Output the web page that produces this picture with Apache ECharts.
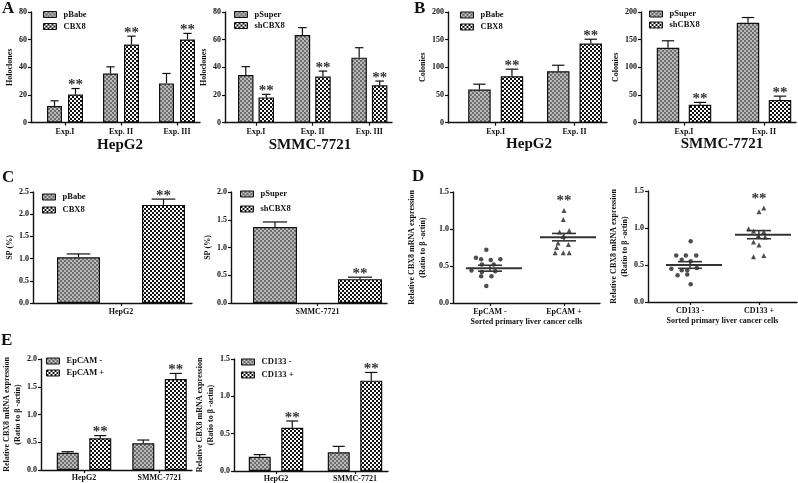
<!DOCTYPE html>
<html><head><meta charset="utf-8">
<script src="https://cdn.jsdelivr.net/npm/echarts@6/dist/echarts.min.js"></script>
<style>html,body{margin:0;padding:0;background:#fff}#c{width:798px;height:483px}</style>
</head><body><div id="c"></div>
<script>
// ================= DATA =================
const expCats3 = ['Exp.I', 'Exp. II', 'Exp. III'];
const expCats2 = ['Exp.I', 'Exp. II'];
const cellCats = ['HepG2', 'SMMC-7721'];
const cCatHep = ['HepG2'];
const cCatSmmc = ['SMMC-7721'];
const epcamCats = ['EpCAM -', 'EpCAM +'];
const cd133Cats = ['CD133 -', 'CD133 +'];

// Panel A (Holoclones)
const aHepPBabe = [12, 35.5, 28.3];
const aHepPBabeErr = [3.7, 4.8, 7.2];
const aHepCBX8 = [20.3, 56.5, 60.1];
const aHepCBX8Err = [4.3, 6, 4.4];
const aHepSig = ['**', '**', '**'];
const aSmmcPSuper = [34.5, 63.4, 47];
const aSmmcPSuperErr = [6, 5.3, 7.2];
const aSmmcShCBX8 = [18.3, 33.3, 27];
const aSmmcShCBX8Err = [2.2, 4, 3.1];
const aSmmcSig = ['**', '**', '**'];

// Panel B (Colonies)
const bHepPBabe = [60, 93];
const bHepPBabeErr = [9.6, 10.8];
const bHepCBX8 = [84, 143];
const bHepCBX8Err = [12.7, 7.8];
const bHepSig = ['**', '**'];
const bSmmcPSuper = [135.5, 180.5];
const bSmmcPSuperErr = [12.5, 9.5];
const bSmmcShCBX8 = [32.5, 41];
const bSmmcShCBX8Err = [4.2, 7];
const bSmmcSig = ['**', '**'];

// Panel C (SP %)
const cHepPBabe = [1.03];
const cHepPBabeErr = [0.075];
const cHepCBX8 = [2.21];
const cHepCBX8Err = [0.13];
const cHepSig = ['**'];
const cSmmcPSuper = [1.37];
const cSmmcPSuperErr = [0.09];
const cSmmcShCBX8 = [0.43];
const cSmmcShCBX8Err = [0.035];
const cSmmcSig = ['**'];

// Panel D (sorted primary cells, individual points)
const dEpNeg = [0.72, 0.61, 0.59, 0.58, 0.59, 0.52, 0.52, 0.44, 0.42, 0.43, 0.36, 0.36, 0.23];
const dEpNegJitter = [-0.05, -0.19, -0.12, 0.01, 0.14, -0.11, 0.05, -0.25, -0.11, 0.07, -0.12, 0.02, -0.05];
const dEpPos = [1.25, 1.13, 0.96, 0.98, 0.90, 0.81, 0.79, 0.75, 0.68, 0.68, 0.68];
const dEpPosJitter = [0.00, -0.01, -0.06, 0.07, -0.01, -0.08, 0.06, -0.10, -0.12, -0.01, 0.07];
const dEpMean = [0.47, 0.89];
const dEpSem = [0.04, 0.05];
const dCdNeg = [0.82, 0.63, 0.63, 0.63, 0.57, 0.55, 0.45, 0.43, 0.43, 0.46, 0.36, 0.37, 0.24];
const dCdNegJitter = [0.01, -0.20, -0.06, 0.09, -0.12, 0.01, -0.27, -0.12, -0.04, 0.10, -0.18, -0.04, 0.01];
const dCdPos = [1.27, 1.22, 0.99, 0.96, 0.95, 0.90, 0.88, 0.81, 0.77, 0.61, 0.63];
const dCdPosJitter = [0.07, 0.00, -0.15, -0.08, 0.07, -0.01, 0.09, -0.08, 0.00, -0.08, 0.07];
const dCdMean = [0.50, 0.91];
const dCdSem = [0.045, 0.055];
const dSig = ['', '**'];

// Panel E (cell lines)
const eEpNeg = [0.31, 0.48];
const eEpNegErr = [0.02, 0.06];
const eEpPos = [0.57, 1.64];
const eEpPosErr = [0.05, 0.10];
const eEpSig = ['**', '**'];
const eCdNeg = [0.19, 0.25];
const eCdNegErr = [0.03, 0.08];
const eCdPos = [0.58, 1.21];
const eCdPosErr = [0.09, 0.11];
const eCdSig = ['**', '**'];

// ================= STYLE / LAYOUT =================
const FONT = '"Liberation Serif", "Times New Roman", serif';
const TXT = '#111';
function pattern(kind) {
  const c = document.createElement('canvas');
  c.width = 4; c.height = 4;
  const g = c.getContext('2d');
  if (kind === 'grey') {
    g.fillStyle = '#b9b9b9'; g.fillRect(0, 0, 4, 4);
    g.fillStyle = '#6e6e6e'; g.fillRect(0, 0, 2, 2); g.fillRect(2, 2, 2, 2);
  } else {
    g.fillStyle = '#ffffff'; g.fillRect(0, 0, 4, 4);
    g.fillStyle = '#111111'; g.fillRect(0, 0, 2, 2); g.fillRect(2, 2, 2, 2);
  }
  return { image: c, repeat: 'repeat' };
}
const GREY = pattern('grey');
const CHECK = pattern('check');

const grids = [], xAxes = [], yAxes = [], series = [], legends = [], graphics = [];

function addPanel(p) {
  const i = grids.length;
  grids.push({ left: p.L, top: p.top, width: p.R - p.L, height: p.bot - p.top });
  const idx = p.cats.map((_, k) => k);
  xAxes.push({
    gridIndex: i, type: 'value',
    min: -(p.c0 - p.L) / p.step, max: (p.R - p.c0) / p.step,
    axisLine: { show: true, onZero: false, lineStyle: { color: '#111', width: 1.4 } },
    axisTick: { show: true, customValues: idx, length: 3, lineStyle: { color: '#111', width: 1.2 } },
    axisLabel: { customValues: idx, formatter: v => p.cats[Math.round(v)] || '', margin: p.xm || 5,
      color: TXT, fontFamily: FONT, fontWeight: 'bold', fontSize: 8 },
    splitLine: { show: false },
    name: p.xname || '', nameLocation: 'middle', nameGap: p.xng || 15,
    nameTextStyle: { color: TXT, fontFamily: FONT, fontWeight: 'bold', fontSize: 8 }
  });
  yAxes.push({
    gridIndex: i, type: 'value', min: 0, max: p.ymax, interval: p.yint,
    axisLine: { show: true, onZero: false, lineStyle: { color: '#111', width: 1.4 } },
    axisTick: { show: true, length: 3, lineStyle: { color: '#111', width: 1.2 } },
    axisLabel: { formatter: v => v.toFixed(p.dec), margin: 4, color: TXT, fontFamily: FONT, fontWeight: 'bold', fontSize: 8 },
    splitLine: { show: false },
    name: p.yname, nameLocation: 'middle', nameGap: p.yng, nameRotate: 90,
    nameTextStyle: { color: TXT, fontFamily: FONT, fontWeight: 'bold', fontSize: 8, lineHeight: 11, align: 'center' }
  });
  return i;
}

function addBars(p, groups, sig) {
  const i = addPanel(p);
  const w = p.barW, gap = (p.dist - w) / w;
  groups.forEach((s) => {
    series.push({
      type: 'bar', name: s.name, xAxisIndex: i, yAxisIndex: i,
      data: s.vals.map((v, j) => [j, v]),
      barWidth: w, barGap: (gap * 100).toFixed(1) + '%',
      itemStyle: { color: s.fill, borderColor: '#111', borderWidth: 1.2 },
      silent: true
    });
  });
  groups.forEach((s, k) => {
    const off = (k === 0 ? -1 : 1) * p.dist / 2;
    const cap = w * 0.55;
    series.push({
      type: 'custom', xAxisIndex: i, yAxisIndex: i, z: 5, silent: true,
      data: s.vals.map((v, j) => [j, v, s.errs[j]]),
      renderItem: (params, api) => {
        const x = api.value(0), y = api.value(1), e = api.value(2);
        const b = api.coord([x, y]), t = api.coord([x, y + e]);
        const cx = b[0] + off;
        const ch = [
          { type: 'line', shape: { x1: cx, y1: b[1], x2: cx, y2: t[1] }, style: { stroke: '#111', lineWidth: 1.2 } },
          { type: 'line', shape: { x1: cx - cap / 2, y1: t[1], x2: cx + cap / 2, y2: t[1] }, style: { stroke: '#111', lineWidth: 1.2 } }
        ];
        if (k === 1 && sig[params.dataIndex]) {
          ch.push({ type: 'text', x: cx, y: t[1] - 3, style: { text: sig[params.dataIndex], font: 'bold 15px ' + FONT, fill: '#333', align: 'center', verticalAlign: 'middle' } });
        }
        return { type: 'group', children: ch };
      }
    });
  });
  legends.push({
    left: p.lg[0], top: p.lg[1], orient: 'vertical', icon: 'rect', itemWidth: 13, itemHeight: 6,
    itemGap: p.lg[2], padding: 0, selectedMode: false,
    data: groups.map(s => s.name),
    itemStyle: { borderColor: '#111', borderWidth: 1 },
    textStyle: { color: TXT, fontFamily: FONT, fontWeight: 'bold', fontSize: 8.5, lineHeight: 9, padding: [0, 0, 0, 2] }
  });
}

function addDots(p, neg, negJ, pos, posJ, mean, sem) {
  const i = addPanel(p);
  series.push({ type: 'scatter', xAxisIndex: i, yAxisIndex: i, symbol: 'circle', symbolSize: 4.5, silent: true,
    itemStyle: { color: '#222' }, data: neg.map((v, j) => [negJ[j], v]) });
  series.push({ type: 'scatter', xAxisIndex: i, yAxisIndex: i, symbol: 'triangle', symbolSize: 5, silent: true,
    itemStyle: { color: '#222' }, data: pos.map((v, j) => [1 + posJ[j], v]) });
  const maxes = [Math.max(...neg), Math.max(...pos)];
  series.push({
    type: 'custom', xAxisIndex: i, yAxisIndex: i, z: 5, silent: true,
    data: mean.map((m, j) => [j, m, sem[j], maxes[j]]),
    renderItem: (params, api) => {
      const x = api.value(0), m = api.value(1), s = api.value(2), mx = api.value(3);
      const c = api.coord([x, m]), hi = api.coord([x, m + s]), lo = api.coord([x, m - s]), top = api.coord([x, mx]);
      const ch = [
        { type: 'line', shape: { x1: c[0] - 24, y1: c[1], x2: c[0] + 32, y2: c[1] }, style: { stroke: '#333', lineWidth: 2 } },
        { type: 'line', shape: { x1: c[0] - 12, y1: hi[1], x2: c[0] + 12, y2: hi[1] }, style: { stroke: '#333', lineWidth: 1.6 } },
        { type: 'line', shape: { x1: c[0] - 12, y1: lo[1], x2: c[0] + 12, y2: lo[1] }, style: { stroke: '#333', lineWidth: 1.6 } },
        { type: 'line', shape: { x1: c[0], y1: lo[1], x2: c[0], y2: hi[1] }, style: { stroke: '#333', lineWidth: 1.4 } }
      ];
      if (dSig[params.dataIndex]) {
        ch.push({ type: 'text', x: c[0], y: top[1] - 9, style: { text: dSig[params.dataIndex], font: 'bold 15px ' + FONT, fill: '#333', align: 'center', verticalAlign: 'middle' } });
      }
      return { type: 'group', children: ch };
    }
  });
}

const yRatio = 'Relative CBX8 mRNA expression\n(Ratio to β -actin)';

// A
addBars({ L: 31, R: 200, top: 12, bot: 122.5, c0: 65, step: 56, barW: 15, dist: 21, ymax: 80, yint: 20, dec: 0,
  yname: 'Holoclones', yng: 12, cats: expCats3, lg: [43, 10, 3] },
  [{ name: 'pBabe', vals: aHepPBabe, errs: aHepPBabeErr, fill: GREY },
   { name: 'CBX8', vals: aHepCBX8, errs: aHepCBX8Err, fill: CHECK }], aHepSig);
addBars({ L: 225, R: 392, top: 12, bot: 122.7, c0: 256, step: 56.7, barW: 15.5, dist: 20.5, ymax: 80, yint: 20, dec: 0,
  yname: 'Holoclones', yng: 13, cats: expCats3, lg: [234, 10, 2] },
  [{ name: 'pSuper', vals: aSmmcPSuper, errs: aSmmcPSuperErr, fill: GREY },
   { name: 'shCBX8', vals: aSmmcShCBX8, errs: aSmmcShCBX8Err, fill: CHECK }], aSmmcSig);
// B
addBars({ L: 448, R: 607, top: 12, bot: 122.7, c0: 495.7, step: 78.8, barW: 22.5, dist: 32.5, ymax: 200, yint: 50, dec: 0,
  yname: 'Colonies', yng: 15, cats: expCats2, lg: [460, 10.5, 3] },
  [{ name: 'pBabe', vals: bHepPBabe, errs: bHepPBabeErr, fill: GREY },
   { name: 'CBX8', vals: bHepCBX8, errs: bHepCBX8Err, fill: CHECK }], bHepSig);
addBars({ L: 641, R: 796, top: 12, bot: 122.7, c0: 684, step: 80, barW: 22.5, dist: 32, ymax: 200, yint: 50, dec: 0,
  yname: 'Colonies', yng: 14, cats: expCats2, lg: [649, 9.5, 2] },
  [{ name: 'pSuper', vals: bSmmcPSuper, errs: bSmmcPSuperErr, fill: GREY },
   { name: 'shCBX8', vals: bSmmcShCBX8, errs: bSmmcShCBX8Err, fill: CHECK }], bSmmcSig);
// C
addBars({ L: 33, R: 192, top: 192, bot: 303, c0: 121, step: 100, barW: 43, dist: 85, ymax: 2.5, yint: 0.5, dec: 1,
  yname: 'SP (%)', yng: 17, cats: cCatHep, lg: [42, 192.5, 4] },
  [{ name: 'pBabe', vals: cHepPBabe, errs: cHepPBabeErr, fill: GREY },
   { name: 'CBX8', vals: cHepCBX8, errs: cHepCBX8Err, fill: CHECK }], cHepSig);
addBars({ L: 231, R: 387, top: 192, bot: 303, c0: 317.5, step: 100, barW: 44, dist: 85, ymax: 2.0, yint: 0.5, dec: 1,
  yname: 'SP (%)', yng: 15, cats: cCatSmmc, lg: [240, 189.5, 6] },
  [{ name: 'pSuper', vals: cSmmcPSuper, errs: cSmmcPSuperErr, fill: GREY },
   { name: 'shCBX8', vals: cSmmcShCBX8, errs: cSmmcShCBX8Err, fill: CHECK }], cSmmcSig);
// D
addDots({ L: 453, R: 600, top: 192, bot: 303, c0: 490, step: 74, ymax: 1.5, yint: 0.5, dec: 1,
  yname: yRatio, yng: 25, cats: epcamCats, xname: 'Sorted primary liver cancer cells', xng: 15 },
  dEpNeg, dEpNegJitter, dEpPos, dEpPosJitter, dEpMean, dEpSem);
addDots({ L: 648, R: 797, top: 191, bot: 302, c0: 690, step: 69, ymax: 1.5, yint: 0.5, dec: 1,
  yname: yRatio, yng: 16, cats: cd133Cats, xname: 'Sorted primary liver cancer cells', xng: 15 },
  dCdNeg, dCdNegJitter, dCdPos, dCdPosJitter, dCdMean, dCdSem);
// E
addBars({ L: 36, R: 192, top: 359, bot: 470, c0: 80.5, step: 78, barW: 22, dist: 32.5, ymax: 2.0, yint: 0.5, dec: 1,
  yname: yRatio, yng: 15, cats: cellCats, xm: 4, lg: [46, 356.5, 3] },
  [{ name: 'EpCAM -', vals: eEpNeg, errs: eEpNegErr, fill: GREY },
   { name: 'EpCAM +', vals: eEpPos, errs: eEpPosErr, fill: CHECK }], eEpSig);
addBars({ L: 234, R: 388, top: 359, bot: 471, c0: 276, step: 79, barW: 22, dist: 32.5, ymax: 1.5, yint: 0.5, dec: 1,
  yname: yRatio, yng: 16, cats: cellCats, xm: 4, lg: [241, 357.5, 4] },
  [{ name: 'CD133 -', vals: eCdNeg, errs: eCdNegErr, fill: GREY },
   { name: 'CD133 +', vals: eCdPos, errs: eCdPosErr, fill: CHECK }], eCdSig);

// titles and panel letters
function txt(x, y, s, size, align) {
  graphics.push({ type: 'text', x: x, y: y, silent: true,
    style: { text: s, font: 'bold ' + size + 'px ' + FONT, fill: TXT, align: align || 'center', verticalAlign: 'middle' } });
}
txt(120, 145, 'HepG2', 15);
txt(310, 145, 'SMMC-7721', 15);
txt(529, 144, 'HepG2', 15);
txt(722, 144, 'SMMC-7721', 15);
txt(2, 9, 'A', 17, 'left');
txt(414, 9, 'B', 17, 'left');
txt(2, 178, 'C', 17, 'left');
txt(412, 177, 'D', 17, 'left');
txt(1, 341, 'E', 17, 'left');

const chart = echarts.init(document.getElementById('c'), null, { renderer: 'canvas' });
chart.setOption({
  animation: false,
  backgroundColor: '#fff',
  grid: grids, xAxis: xAxes, yAxis: yAxes, series: series, legend: legends, graphic: graphics
});
</script>
</body></html>
